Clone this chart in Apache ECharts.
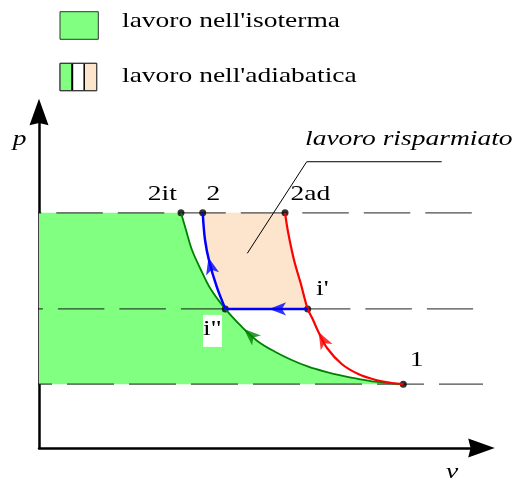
<!DOCTYPE html>
<html><head><meta charset="utf-8">
<script src="https://cdn.jsdelivr.net/npm/echarts@6/dist/echarts.min.js"></script>
<style>html,body{margin:0;padding:0;background:#fff}#c{width:517px;height:481px}</style>
</head><body><div id="c"></div>
<script>
// ---- data (v, p in arbitrary diagram units) ----
const isobarLevels = [70.0, 41.4, 19.0];            // p2, pi, p1
const isobarSpans = [[-0.5, 97.85], [-0.5, 98.1], [-0.5, 100.6]];
const isotherm = [[32.09,70.0],[33.22,64.88],[34.58,58.93],[36.39,53.57],[38.65,47.62],[42.10,41.4],
  [45.81,36.10],[49.56,31.64],[53.33,28.66],[57.11,26.19],[60.86,24.20],[64.63,22.71],[68.41,21.52],
  [72.16,20.54],[75.93,19.73],[79.71,19.26],[82.33,19.0]];
const adiabatLowStage = [[82.33,19.0],[79.71,19.35],[75.93,20.3],[72.16,22.0],[68.41,25.0],[65.09,29.76],
  [63.12,34.61],[61.76,38.6],[60.72,41.4]];
const adiabatSingle = [[60.72,41.4],[59.14,49.02],[57.63,55.95],[56.34,63.9],[55.6,70.0]];
const intercooler = [[60.72,41.4],[42.10,41.4]];
const adiabatHighStage = [[42.10,41.4],[40.16,48.0],[38.49,55.44],[37.52,61.9],[37.0,70.0]];
const stateNames = ['2it','2','2ad','i"',"i'",'1'];
const stateV = [32.09, 37.0, 55.6, 42.10, 60.72, 82.33];
const stateP = [70.0, 70.0, 70.0, 41.4, 41.4, 19.0];
const flowArrows = [[46.3,35.4],[63.2,34.5],[52.0,41.4],[38.3,56.7]];
const flowArrowAngles = [48, 28, 90, 14];
const leader = [[47.07,57.94],[60.5,85.2],[91.0,85.2]];
const legendLabels = ["lavoro nell'isoterma", "lavoro nell'adiabatica"];
const annotationText = 'lavoro risparmiato';
const axisNames = ['v', 'p'];

// ---- styles ----
const GREEN_FILL = '#80ff80', PEACH = '#fde4cc';
const C_ISO = '#008000', C_RED = '#ff0000', C_BLUE = '#0000ff';
const arrowColors = [C_ISO, C_RED, C_BLUE, C_BLUE];
const FONT = '"Liberation Serif","Times New Roman",serif';
const SX = 1.25;
const dashCfg = [{dash:[46.5,15], off:42}, {dash:[46.5,15], off:40.4}, {dash:[47,15], off:31.8}];

const greenPoly = [[0, isobarLevels[0]]].concat(isotherm, [[0, isobarLevels[2]]]);
const peachPoly = [[stateV[1], stateP[1]]].concat(adiabatSingle.slice().reverse(), intercooler, adiabatHighStage);

function polySeries(poly, fill) {
  return {
    type: 'custom', silent: true, data: [poly[0]],
    renderItem: function (params, api) {
      return { type: 'polygon', shape: { points: poly.map(function (p) { return api.coord(p); }) },
               style: { fill: fill, stroke: null } };
    }
  };
}
const arrowPath = 'path://M10,0L20,28L10,25.5L0,28Z';
const axisCommon = {
  type: 'value', min: 0, max: 100,
  axisLine: { show: true, onZero: false, symbol: ['none', arrowPath], symbolSize: [19, 27],
              lineStyle: { color: '#000', width: 2.5 } },
  axisTick: { show: false }, axisLabel: { show: false }, splitLine: { show: false }
};

const series = [
  polySeries(greenPoly, GREEN_FILL),
  polySeries(peachPoly, PEACH)
];
isobarLevels.forEach(function (p, i) {
  series.push({
    type: 'line', silent: true, clip: false, symbol: 'none',
    data: [[isobarSpans[i][0], p], [isobarSpans[i][1], p]],
    lineStyle: { color: 'rgba(0,0,0,0.7)', width: 1.3, type: dashCfg[i].dash, dashOffset: dashCfg[i].off }
  });
});
series.push({ type: 'line', silent: true, symbol: 'none', data: leader,
  lineStyle: { color: '#000', width: 1 } });
series.push({ type: 'line', silent: true, symbol: 'none', smooth: 0.35, data: isotherm,
  lineStyle: { color: C_ISO, width: 1.8 } });
series.push({ type: 'line', silent: true, symbol: 'none', smooth: 0.35,
  data: adiabatLowStage.concat(adiabatSingle.slice(1)), lineStyle: { color: C_RED, width: 2.2 } });
series.push({ type: 'line', silent: true, symbol: 'none', data: intercooler,
  lineStyle: { color: C_BLUE, width: 2.5 } });
series.push({ type: 'line', silent: true, symbol: 'none', smooth: 0.35, data: adiabatHighStage,
  lineStyle: { color: C_BLUE, width: 2.5 } });
series.push({ type: 'scatter', silent: true, symbol: 'arrow', symbolSize: [10, 17],
  data: flowArrows.map(function (a, i) {
    return { value: a, symbolRotate: flowArrowAngles[i], itemStyle: { color: arrowColors[i] } };
  })
});
series.push({ type: 'scatter', silent: true, symbol: 'circle', symbolSize: 7,
  itemStyle: { color: '#000' },
  data: stateV.map(function (v, i) { return [v, stateP[i]]; }) });

const chart = echarts.init(document.getElementById('c'), null, { renderer: 'canvas' });
chart.setOption({
  animation: false, backgroundColor: '#fff',
  grid: { left: 39, top: 112, right: 35.5, bottom: 33 },
  xAxis: axisCommon, yAxis: axisCommon, series: series
});

// ---- texts & legend ----
function txt(x, y, s, align, italic) {
  return { type: 'text', x: x, y: y, scaleX: SX, z: 100,
    style: { text: s, fontSize: 22, fontFamily: FONT, fontStyle: italic ? 'italic' : 'normal', fill: '#000',
      align: align, verticalAlign: 'middle', textAlign: align, textVerticalAlign: 'middle' } };
}
const px = function (pt) { return chart.convertToPixel({ gridIndex: 0 }, pt); };
const labelOffsets = { '2it': [-18.65, -18.9], '2': [10.6, -18.9], '2ad': [25.3, -18.9],
  'i"': [-12.9, 20.3], "i'": [14.6, -19.9], '1': [13.4, -23.6] };
const g = [];
// legend
g.push({ type: 'rect', z: 100, shape: { x: 60, y: 11.7, width: 38.3, height: 27.6 },
  style: { fill: GREEN_FILL, stroke: '#333', lineWidth: 1 } });
g.push({ type: 'rect', z: 100, shape: { x: 60, y: 63.3, width: 36.7, height: 27.4 },
  style: { fill: '#fff', stroke: '#333', lineWidth: 1 } });
g.push({ type: 'rect', z: 101, shape: { x: 60.5, y: 63.8, width: 11, height: 26.4 }, style: { fill: GREEN_FILL } });
g.push({ type: 'rect', z: 101, shape: { x: 84.5, y: 63.8, width: 12, height: 26.4 }, style: { fill: PEACH } });
g.push({ type: 'line', z: 102, shape: { x1: 72.2, y1: 63.3, x2: 72.2, y2: 90.7 }, style: { stroke: '#000', lineWidth: 2 } });
g.push({ type: 'line', z: 102, shape: { x1: 84.2, y1: 63.3, x2: 84.2, y2: 90.7 }, style: { stroke: '#000', lineWidth: 1.5 } });
g.push({ type: 'rect', z: 103, shape: { x: 60, y: 63.3, width: 36.7, height: 27.4 },
  style: { fill: null, stroke: '#333', lineWidth: 1 } });
g.push(txt(122, 20.9, legendLabels[0], 'left'));
g.push(txt(122, 75.9, legendLabels[1], 'left'));
// state labels
stateNames.forEach(function (n, i) {
  const c = px([stateV[i], stateP[i]]);
  const o = labelOffsets[n];
  if (n === 'i"') {
    g.push({ type: 'rect', z: 99, shape: { x: c[0] - 22.3, y: c[1] + 6, width: 19, height: 32 }, style: { fill: '#fff' } });
  }
  g.push(txt(c[0] + o[0], c[1] + o[1], n, 'center'));
});
// annotation
const elbow = px(leader[1]);
g.push(txt(elbow[0] - 1.7, elbow[1] - 22.4, annotationText, 'left', true));
// axis names
const yEnd = px([0, 100]);
const xEnd = px([100, 0]);
g.push(txt(yEnd[0] - 26.3, yEnd[1] + 27.3, axisNames[1], 'left', true));
g.push(txt(xEnd[0] - 29.5, xEnd[1] + 24.6, axisNames[0], 'center', true));
chart.setOption({ graphic: { elements: g } });
</script></body></html>
